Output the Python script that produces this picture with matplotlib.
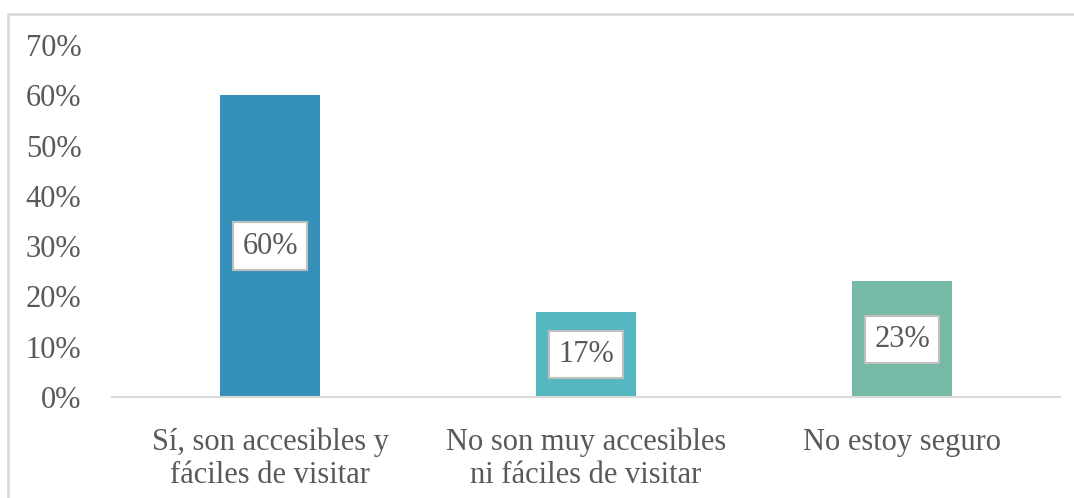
"""Bar chart: accesibilidad de los lugares."""
import matplotlib
matplotlib.use("Agg")
from matplotlib import pyplot as plt
from matplotlib.patches import Rectangle

categories = ["Sí, son accesibles y\nfáciles de visitar",
              "No son muy accesibles\nni fáciles de visitar",
              "No estoy seguro"]
values = [60, 17, 23]
bar_colors = ["#3591B9", "#55B7C0", "#75B9A6"]
y_ticks = [0, 10, 20, 30, 40, 50, 60, 70]

text_color = "#595959"
plt.rcParams["font.family"] = ["Liberation Serif", "DejaVu Serif"]

W, H = 1074, 498
fig = plt.figure(figsize=(W / 100, H / 100), dpi=100)

# outer light border (runs past right and bottom edges)
fig.patches.append(Rectangle((8 / W, -0.1), 1.2, 1 - 14 / H + 0.1,
                             transform=fig.transFigure, fill=False,
                             edgecolor="#D9D9D9", linewidth=2))

ax = fig.add_axes([112 / W, 1 - 397 / H, (1060 - 112) / W, (397 - 45) / H])
x = range(len(categories))
bars = ax.bar(x, values, width=0.316, color=bar_colors, zorder=2)

for rect, v in zip(bars, values):
    ax.text(rect.get_x() + rect.get_width() / 2, v / 2, f"{v}%",
            ha="center", va="center", fontsize=22, color=text_color, zorder=3,
            bbox=dict(boxstyle="square,pad=0.3", facecolor="white",
                      edgecolor="#BFBFBF", linewidth=1.5))

ax.set_xlim(-0.5, 2.5)
ax.set_ylim(0, 70)
ax.set_yticks(y_ticks)
ax.set_yticklabels([f"{t}%" for t in y_ticks])
ax.set_xticks(list(x))
ax.set_xticklabels(categories, linespacing=1.2)
ax.tick_params(axis="both", length=0, labelsize=22, labelcolor=text_color)
ax.tick_params(axis="y", pad=22)
ax.tick_params(axis="x", pad=22)

for side in ["top", "right", "left"]:
    ax.spines[side].set_visible(False)
ax.spines["bottom"].set_color("#D9D9D9")
ax.spines["bottom"].set_linewidth(1.5)

fig.savefig("out.png", dpi=100)
